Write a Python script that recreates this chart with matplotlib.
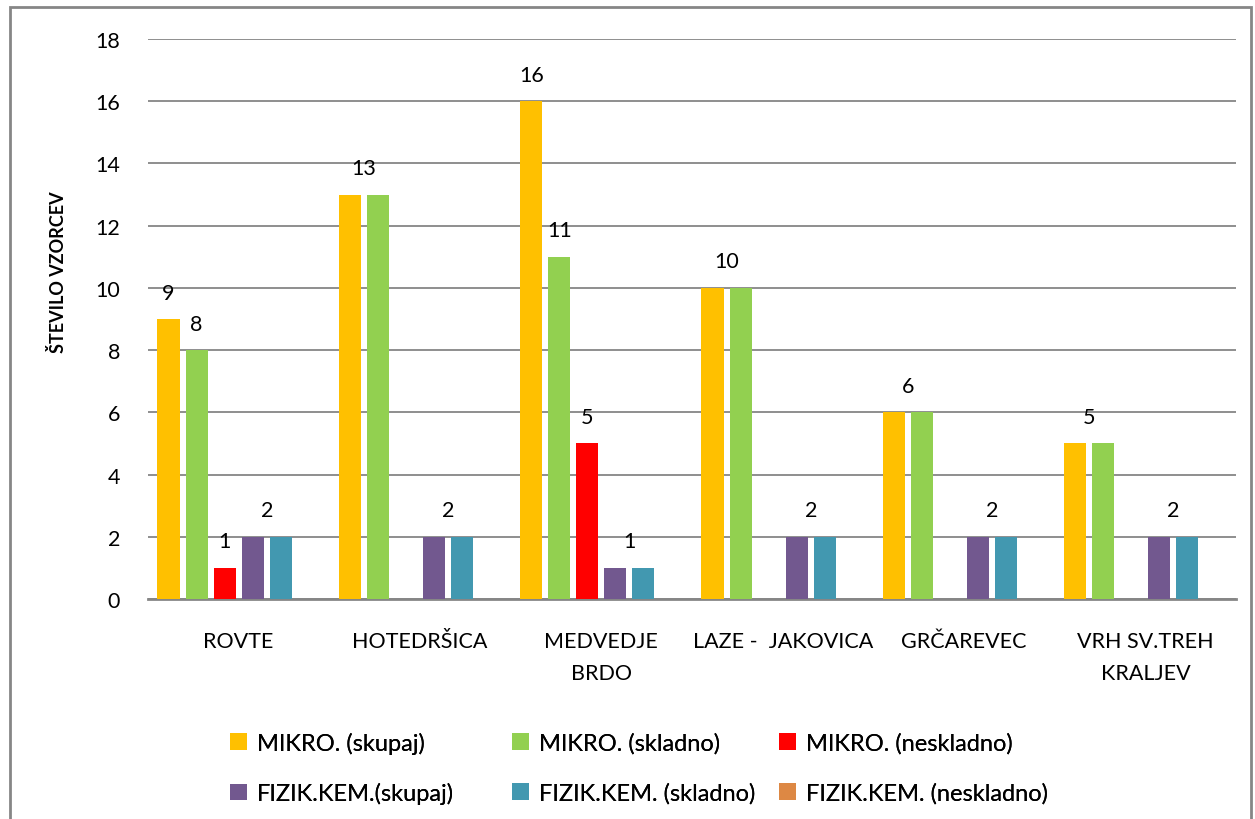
import matplotlib
matplotlib.use("Agg")
import matplotlib.pyplot as plt
from matplotlib.patches import Rectangle
import numpy as np

categories = ["ROVTE", "HOTEDRŠICA", "MEDVEDJE\nBRDO", "LAZE -  JAKOVICA", "GRČAREVEC", "VRH SV.TREH\nKRALJEV"]
series_names = ["MIKRO. (skupaj)", "MIKRO. (skladno)", "MIKRO. (neskladno)",
                "FIZIK.KEM.(skupaj)", "FIZIK.KEM. (skladno)", "FIZIK.KEM. (neskladno)"]
mikro_skupaj = [9, 13, 16, 10, 6, 5]
mikro_skladno = [8, 13, 11, 10, 6, 5]
mikro_neskladno = [1, 0, 5, 0, 0, 0]
fizkem_skupaj = [2, 2, 1, 2, 2, 2]
fizkem_skladno = [2, 2, 1, 2, 2, 2]
fizkem_neskladno = [0, 0, 0, 0, 0, 0]
series = [mikro_skupaj, mikro_skladno, mikro_neskladno, fizkem_skupaj, fizkem_skladno, fizkem_neskladno]
colors = ["#FFC000", "#92D050", "#FF0000", "#72588F", "#4298B0", "#DD8844"]
y_ticks = list(range(0, 19, 2))

plt.rcParams['font.family'] = ['Lato', 'DejaVu Sans']

fig = plt.figure(figsize=(12.55, 8.2), dpi=100)
ax = fig.add_axes([148/1255, 1-600/820, (1236-148)/1255, (600-40)/820])

n = len(series)
slot = 0.1547
width = 0.122
x = np.arange(len(categories))
offsets = (np.arange(n) - (n-1)/2) * slot
handles = []
for i, (vals, c) in enumerate(zip(series, colors)):
    b = ax.bar(x + offsets[i], vals, width=width, color=c, label=series_names[i], zorder=3)
    handles.append(b)

# data labels: equal consecutive values share one label at their midpoint
for g in range(len(categories)):
    vals = [s[g] for s in series]
    i = 0
    while i < n:
        j = i
        while j + 1 < n and vals[j+1] == vals[i]:
            j += 1
        if vals[i] > 0:
            xc = x[g] + (offsets[i] + offsets[j]) / 2
            ax.text(xc, vals[i] + 0.85, str(vals[i]), ha="center", va="center",
                    fontsize=15.5, color="#000000")
        i = j + 1

ax.set_xlim(-0.5, len(categories) - 0.5)
ax.set_ylim(0, 18)
ax.set_yticks(y_ticks)
ax.set_yticklabels([str(t) for t in y_ticks], fontsize=15.5)
ax.set_xticks(x)
ax.set_xticklabels(categories, fontsize=15.5, linespacing=1.75, va="top")
ax.tick_params(axis="y", length=0, pad=20)
ax.tick_params(axis="x", length=0, pad=23)
ax.yaxis.grid(True, color="#868686", linewidth=1.3, zorder=0)
ax.set_axisbelow(True)
for sp in ["top", "right", "left"]:
    ax.spines[sp].set_visible(False)
ax.spines["bottom"].set_color("#868686")
ax.spines["bottom"].set_linewidth(2)

fig.text(58/1255, 1-272/820, "ŠTEVILO VZORCEV", rotation=90, ha="center", va="center",
         fontsize=13, fontweight="bold")

# legend: 3 columns x 2 rows, row-major order
col_x = [230, 512, 779]
for col in range(3):
    idx = [col, col + 3]
    leg = fig.legend([handles[k] for k in idx], [series_names[k] for k in idx], ncol=1,
                     loc="center left", bbox_to_anchor=(col_x[col]/1255, 1-769/820),
                     frameon=False, fontsize=17, handlelength=0.7, handleheight=0.7,
                     handletextpad=0.45, labelspacing=1.2, borderpad=0,
                     borderaxespad=0)
    fig.add_artist(leg)

fig.patches.append(Rectangle((10/1255, -0.01), (1251-10)/1255, (1-8/820) + 0.01,
                             transform=fig.transFigure, fill=False,
                             edgecolor="#868686", linewidth=2))

fig.savefig("out.png", dpi=100)
